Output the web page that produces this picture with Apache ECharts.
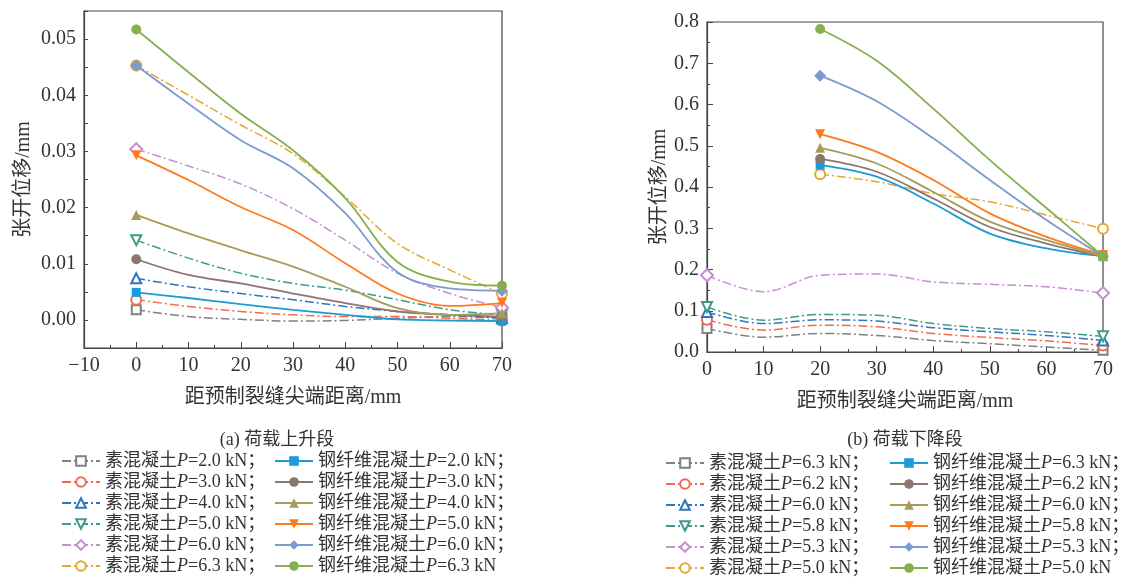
<!DOCTYPE html>
<html><head><meta charset="utf-8">
<script src="https://cdn.jsdelivr.net/npm/echarts@6/dist/echarts.min.js"></script>
<style>html,body{margin:0;padding:0;background:#fff}#c{width:1140px;height:581px}</style>
</head><body><div id="c"></div>
<script>
// ---------- data ----------
const xFull = [0, 10, 20, 30, 40, 50, 60, 70];
const xFrom20 = [20, 30, 40, 50, 60, 70];

// (a) loading ascending stage
const loadsA = ['2.0', '3.0', '4.0', '5.0', '6.0', '6.3'];
const plainA = [
  [0.0018, 0.0006, 0.0001, -0.0002, -0.0001, 0.0003, 0.0006, 0.0003],
  [0.0036, 0.0024, 0.0015, 0.0009, 0.0006, 0.0006, 0.0003, -0.0001],
  [0.0074, 0.0059, 0.0047, 0.0036, 0.0024, 0.0015, 0.0009, 0.0003],
  [0.0142, 0.0110, 0.0083, 0.0065, 0.0053, 0.0036, 0.0018, 0.0009],
  [0.0304, 0.0274, 0.0242, 0.0198, 0.0142, 0.0083, 0.0047, 0.0022],
  [0.0453, 0.0400, 0.0347, 0.0296, 0.0219, 0.0136, 0.0089, 0.0047]
];
const steelA = [
  [0.0049, 0.0039, 0.0028, 0.0018, 0.0009, 0.0001, -0.0001, -0.0002],
  [0.0108, 0.0080, 0.0065, 0.0047, 0.0030, 0.0015, 0.0009, 0.0006],
  [0.0187, 0.0154, 0.0124, 0.0095, 0.0059, 0.0021, 0.0009, 0.0012],
  [0.0293, 0.0249, 0.0201, 0.0160, 0.0101, 0.0047, 0.0025, 0.0030],
  [0.0453, 0.0385, 0.0320, 0.0270, 0.0190, 0.0085, 0.0056, 0.0052],
  [0.0517, 0.0441, 0.0367, 0.0302, 0.0217, 0.0103, 0.0068, 0.0061]
];

// (b) loading descending stage
const loadsB = ['6.3', '6.2', '6.0', '5.8', '5.3', '5.0'];
const plainB = [
  [0.057, 0.036, 0.045, 0.040, 0.028, 0.020, 0.012, 0.004],
  [0.078, 0.053, 0.065, 0.061, 0.045, 0.035, 0.027, 0.016],
  [0.097, 0.069, 0.078, 0.075, 0.059, 0.049, 0.040, 0.028],
  [0.109, 0.077, 0.091, 0.089, 0.069, 0.057, 0.049, 0.038],
  [0.186, 0.146, 0.186, 0.189, 0.170, 0.164, 0.158, 0.143],
  [0.431, 0.413, 0.384, 0.364, 0.332, 0.299]          // starts at 20 mm
];
const steelB = [
  [0.453, 0.425, 0.360, 0.287, 0.251, 0.232],
  [0.468, 0.437, 0.372, 0.303, 0.263, 0.232],
  [0.495, 0.457, 0.388, 0.316, 0.271, 0.232],
  [0.528, 0.485, 0.417, 0.336, 0.279, 0.235],
  [0.670, 0.608, 0.518, 0.417, 0.320, 0.232],
  [0.783, 0.706, 0.590, 0.465, 0.349, 0.232]
];
const plainXB = [xFull, xFull, xFull, xFull, xFull, xFrom20];

const xTicksA = { min: -10, max: 70, interval: 10 };
const yTicksA = { min: -0.005, max: 0.055, interval: 0.005 };
const xTicksB = { min: 0, max: 70, interval: 10 };
const yTicksB = { min: 0, max: 0.8, interval: 0.1 };

const plainLabel = '素混凝土';
const steelLabel = '钢纤维混凝土';
const xName = '距预制裂缝尖端距离/mm';
const yName = '张开位移/mm';
const subTitles = ['(a) 荷载上升段', '(b) 荷载下降段'];

// ---------- styles ----------
const plainColors = ['#808080', '#f26b50', '#2e74c0', '#3f9a8c', '#c58fd0', '#e3a931'];
const steelColors = ['#1c9bd7', '#8d7672', '#a89c5c', '#ff7a1c', '#7b9bcf', '#86b04f'];
const plainSymbols = ['emptyRect', 'emptyCircle', 'emptyTriangle', 'emptyTriangle', 'emptyDiamond', 'emptyCircle'];
const steelSymbols = ['rect', 'circle', 'triangle', 'triangle', 'diamond', 'circle'];
const rotations = [0, 0, 0, 180, 0, 0];
const symSizes = [9, 10, 10, 10, 12, 10];
const SERIF = 'Liberation Serif, Noto Sans CJK SC, serif';
const dashDot = [9, 3, 2, 3];

const series = [];
function addSeries(tag, idx, kind, load, xs, ys, last, gridIdx) {
  const isPlain = kind === 'p';
  const color = isPlain ? plainColors[idx] : steelColors[idx];
  const data = xs.map((x, i) => [x, ys[i]]);
  const n = data.length;
  const sz = symSizes[idx];
  series.push({
    type: 'line',
    name: tag + '|' + kind + '|' + load + '|' + (last ? '' : '；'),
    xAxisIndex: gridIdx, yAxisIndex: gridIdx,
    data: data,
    smooth: 0.35,
    showAllSymbol: true,
    symbol: isPlain ? plainSymbols[idx] : steelSymbols[idx],
    symbolRotate: rotations[idx],
    symbolSize: function (v, p) { return (p.dataIndex === 0 || p.dataIndex === n - 1) ? sz : 0; },
    color: color,
    itemStyle: { color: color, borderColor: color, borderWidth: isPlain ? 1.2 : 0 },
    lineStyle: { color: color, width: isPlain ? 1.5 : 1.8, type: isPlain ? dashDot : 'solid' },
    emphasis: { disabled: true },
    animation: false,
    z: isPlain ? 2 : 3
  });
}
for (let i = 0; i < 6; i++) {
  addSeries('a', i, 'p', loadsA[i], xFull, plainA[i], false, 0);
  addSeries('a', i, 's', loadsA[i], xFull, steelA[i], i === 5, 0);
  addSeries('b', i, 'p', loadsB[i], plainXB[i], plainB[i], false, 1);
  addSeries('b', i, 's', loadsB[i], xFrom20, steelB[i], i === 5, 1);
}

function legendFormatter(name) {
  const parts = name.split('|');
  const label = parts[1] === 'p' ? plainLabel : steelLabel;
  return label + '{i|P}=' + parts[2] + ' kN' + parts[3];
}
function makeLegend(tag, kind, left, top, loads) {
  return {
    data: loads.map((l, i) => tag + '|' + kind + '|' + l + '|' + ((kind === 's' && i === 5) ? '' : '；')),
    orient: 'vertical', left: left, top: top,
    itemWidth: 38, itemHeight: 12, itemGap: 3,
    padding: 0,
    selectedMode: false,
    formatter: legendFormatter,
    textStyle: {
      fontFamily: SERIF, fontSize: 18, color: '#333', lineHeight: 18,
      rich: { i: { fontFamily: SERIF, fontStyle: 'italic', fontSize: 18, color: '#333', lineHeight: 18 } }
    }
  };
}

function valueAxis(grid, t, labelFmt, extra) {
  return Object.assign({
    type: 'value', gridIndex: grid,
    min: t.min, max: t.max, interval: t.interval,
    axisLine: { show: true, onZero: false, lineStyle: { color: '#444', width: 1.2 } },
    axisTick: { show: true, inside: true, length: 6, lineStyle: { color: '#444' } },
    minorTick: { show: true, splitNumber: 2, length: 3, lineStyle: { color: '#444' } },
    splitLine: { show: false },
    axisLabel: { fontFamily: SERIF, fontSize: 20, color: '#333', formatter: labelFmt, margin: 8 },
    nameLocation: 'middle',
    nameTextStyle: { fontFamily: SERIF, fontSize: 20, color: '#333' }
  }, extra);
}
const fmtXA = v => String(v).replace('-', '−');
const fmtYA = v => {
  const k = Math.round(v * 1000);
  return (k % 10 === 0) ? (k / 1000).toFixed(2) : '';
};
const fmtX = v => String(v);
const fmtYB = v => v.toFixed(1);

const yAxisA = valueAxis(0, yTicksA, fmtYA, { name: yName, nameGap: 50, minorTick: { show: false } });
yAxisA.axisTick.length = 4;

const option = {
  backgroundColor: '#fff',
  animation: false,
  title: [
    { text: subTitles[0], left: 272, top: 426, textAlign: 'center',
      textStyle: { fontFamily: SERIF, fontSize: 18, fontWeight: 'normal', color: '#333' } },
    { text: subTitles[1], left: 900, top: 426, textAlign: 'center',
      textStyle: { fontFamily: SERIF, fontSize: 18, fontWeight: 'normal', color: '#333' } }
  ],
  grid: [
    { left: 84, top: 11, width: 418, height: 337, show: true, borderColor: '#444', borderWidth: 1.2, backgroundColor: 'transparent' },
    { left: 707, top: 22, width: 396, height: 330, show: true, borderColor: '#444', borderWidth: 1.2, backgroundColor: 'transparent' }
  ],
  xAxis: [
    valueAxis(0, xTicksA, fmtXA, { name: xName, nameGap: 40 }),
    valueAxis(1, xTicksB, fmtX, { name: xName, nameGap: 40 })
  ],
  yAxis: [
    yAxisA,
    valueAxis(1, yTicksB, fmtYB, { name: yName, nameGap: 36 })
  ],
  legend: [
    makeLegend('a', 'p', 61, 452, loadsA),
    makeLegend('a', 's', 274, 452, loadsA),
    makeLegend('b', 'p', 665, 454, loadsB),
    makeLegend('b', 's', 889, 454, loadsB)
  ],
  series: series
};
const chart = echarts.init(document.getElementById('c'), null, { renderer: 'canvas' });
chart.setOption(option);
</script>
</body></html>
